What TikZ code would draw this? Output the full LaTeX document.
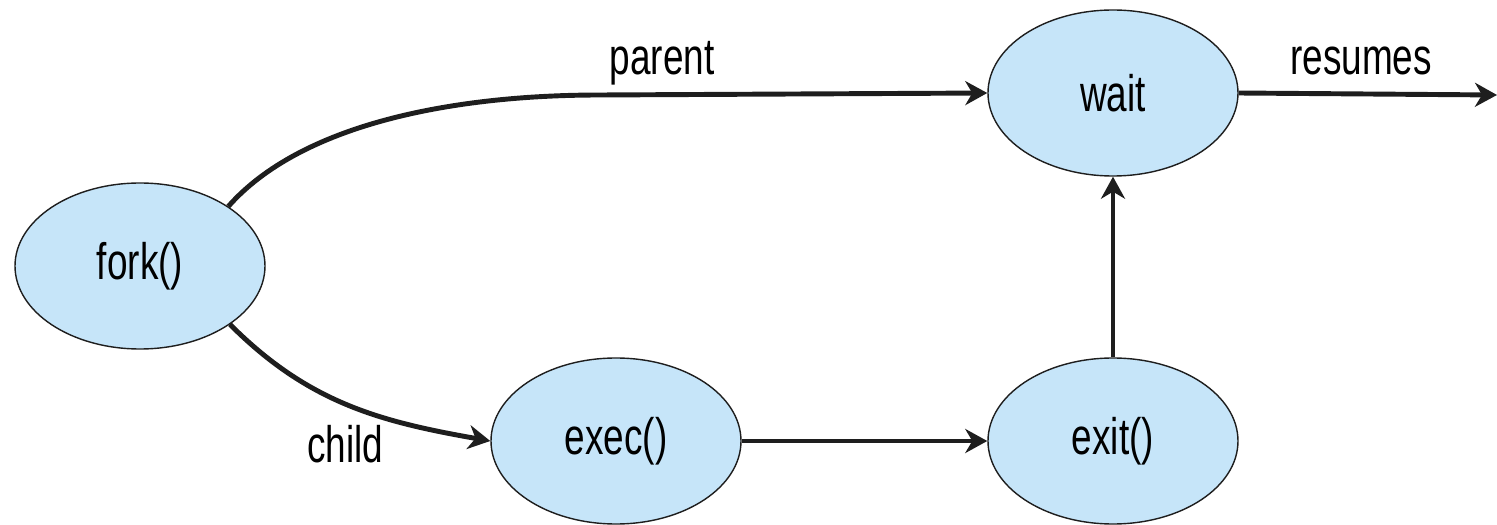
\documentclass[tikz,border=0pt]{standalone}
\usepackage{fontspec}
\newfontfamily\narrowsans{Liberation Sans}[FakeStretch=0.72]
\usetikzlibrary{shapes.geometric,arrows.meta}
\definecolor{callblue}{RGB}{198,229,249}
\definecolor{inkline}{RGB}{30,30,30}

\begin{document}
\begin{tikzpicture}[call/.style={ellipse, draw=inkline, thin, fill=callblue, minimum width=2.5cm, minimum height=1.66cm, inner sep=0pt, font=\narrowsans\fontsize{14.6}{17}\selectfont},
  flow/.style={draw=inkline, line width=1.4pt, -{Stealth[length=2.2mm,width=2.4mm,inset=0.7mm]}},
  lbl/.style={anchor=base, font=\narrowsans\fontsize{14.6}{17}\selectfont}]
  \useasboundingbox (0,0) rectangle (14.97,5.25);
  \node[call] (fork) at (1.40,2.59) {fork()};
  \node[call] (exec) at (6.16,0.84) {exec()};
  \node[call] (exit) at (11.13,0.84) {exit()};
  \node[call] (wait) at (11.13,4.32) {wait};
  \coordinate (bend) at (6.0,4.30);
  \coordinate (away) at (14.97,4.30);
  %\draw (fork.34) to[out=55,in=180] (wait.west);
  \draw[flow] (fork.34) .. controls (3.0,4.0) and (4.5,4.30) .. (bend) -- (wait.west);
  \draw[flow] (fork.-33) to[out=-45,in=170] (exec.west);
  \draw[flow] (exec.east) -- (exit.west);
  \draw[flow] (exit.north) -- (wait.south);
  \draw[flow] (wait.east) -- (away);
  \node[lbl] (parentlbl) at (6.62,4.50) {parent};
  \node[lbl] (childlbl) at (3.45,0.62) {child};
  \node[lbl] (resumeslbl) at (13.61,4.50) {resumes};

\end{tikzpicture}
\end{document}
